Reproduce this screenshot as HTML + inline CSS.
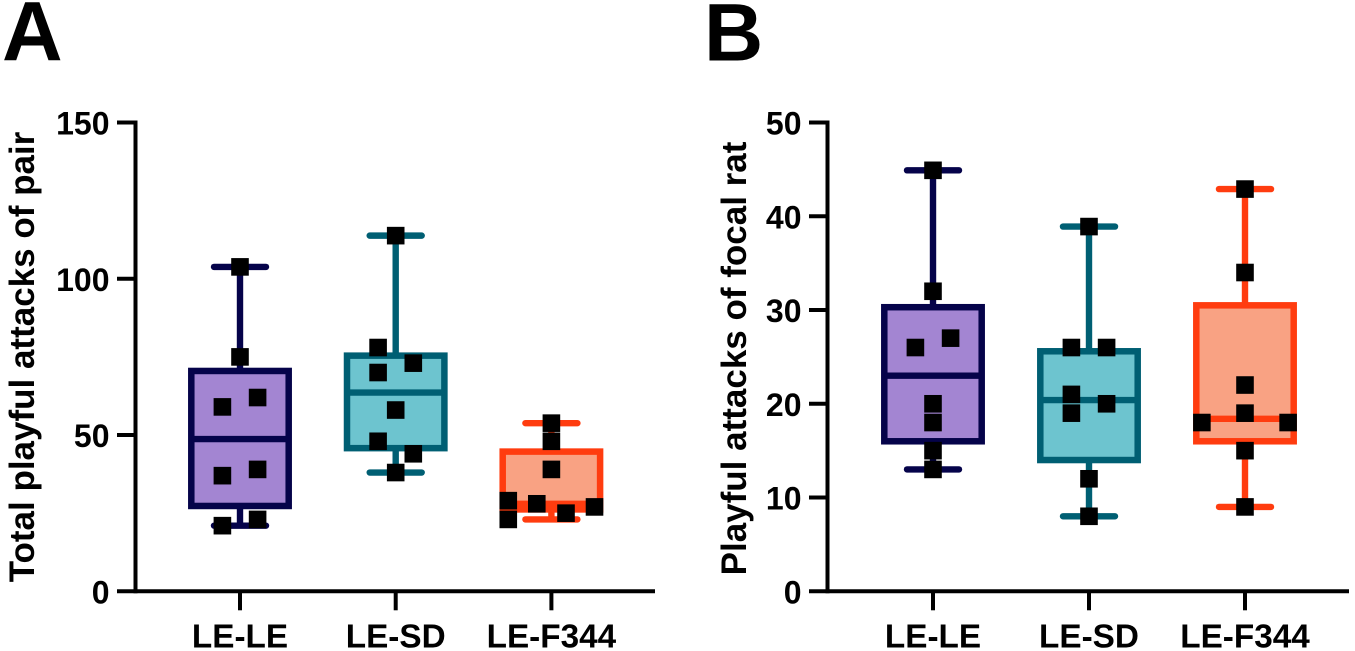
<!DOCTYPE html>
<html lang="en">
<head>
<meta charset="utf-8">
<title>Playful attacks box plots</title>
<style>
html,body{margin:0;padding:0;background:#fff;}
body{width:1355px;height:651px;overflow:hidden;}
svg{display:block;}
text{font-family:"Liberation Sans",Arial,sans-serif;font-weight:bold;fill:#000;}
</style>
</head>
<body>
<svg id="chart" width="1355" height="651" viewBox="0 0 1355 651" xmlns="http://www.w3.org/2000/svg"></svg>
<script>
const categories = ['LE-LE', 'LE-SD', 'LE-F344'];
const strokeColors = ['#05034a', '#005f73', '#ff3c0f'];
const fillColors = ['#a385d2', '#6dc4cf', '#f9a283'];

const panelLabels = ['A', 'B'];
const axisTitles = ['Total playful attacks of pair', 'Playful attacks of focal rat'];

const ticksA = [0, 50, 100, 150];
const ticksB = [0, 10, 20, 30, 40, 50];

const minA = [21, 38, 23];
const q1A = [27.3, 45.8, 26.2];
const medianA = [48.7, 63.6, 28];
const q3A = [70.5, 75.4, 44.7];
const maxA = [103.8, 113.8, 53.8];

const minB = [13, 8, 9];
const q1B = [16, 14, 16];
const medianB = [23, 20.4, 18.4];
const q3B = [30.3, 25.6, 30.5];
const maxB = [44.9, 38.9, 42.9];

const pointsA = [
  [103.8, 75, 62, 59, 39, 37, 23, 21],
  [113.8, 78, 73, 70, 58, 48, 44, 38],
  [53.8, 48, 39, 29, 28, 27, 25, 23]
];
const pointsB = [
  [44.9, 32, 27, 26, 20, 18, 15, 13],
  [38.9, 26, 26, 21, 20, 19, 12, 8],
  [42.9, 34, 22, 19, 18, 18, 15, 9]
];

/* Swarm column of each point, in marker widths from the box centre */
const columnsA = [
  [0, 0, 1, -1, 1, -1, 1, -1],
  [0, -1, 1, -1, 0, -1, 1, 0],
  [0, 0, 0, -2.45, -0.83, 2.45, 0.83, -2.45]
];
const columnsB = [
  [0, 0, 1, -1, 0, 0, 0, 0],
  [0, -1, 1, -1, 1, -1, 0, 0],
  [0, 0, 0, 0, -2.45, 2.45, 0, 0]
];

const NS = 'http://www.w3.org/2000/svg';
const svg = document.getElementById('chart');

function make(parent, tag, attrs, text) {
  const el = document.createElementNS(NS, tag);
  for (const key in attrs) el.setAttribute(key, attrs[key]);
  if (text !== undefined) el.textContent = text;
  parent.appendChild(el);
  return el;
}

function drawPanel(cfg) {
  const yScale = v => cfg.y0 - (v / cfg.yMax) * (cfg.y0 - cfg.yTop);
  const xScale = i => cfg.xFirst + i * cfg.xStep;

  const panel = make(svg, 'g', {});
  
  

  const letter = make(panel, 'text', {x: cfg.letterX, y: 60.5, 'font-size': cfg.letterSize}, cfg.label);
  
  

  const title = make(panel, 'text', {
    x: 0, y: 0, 'font-size': cfg.titleSize, 'text-anchor': 'middle',
    transform: 'translate(' + cfg.titleX + ' ' + cfg.titleY + ') rotate(-90)'
  }, cfg.title);
  
  

  cfg.ticks.forEach(t => {
    const tick = make(panel, 'line', {x1: cfg.xAxis - 18.5, x2: cfg.xAxis, y1: yScale(t), y2: yScale(t), stroke: '#000', 'stroke-width': 4});
    
    
    const label = make(panel, 'text', {x: cfg.xAxis - 26, y: yScale(t) + 12, 'font-size': 32, 'text-anchor': 'end'}, String(t));
    
    
  });

  const yAxis = make(panel, 'line', {x1: cfg.xAxis, x2: cfg.xAxis, y1: cfg.yTop - 2, y2: cfg.y0 + 2, stroke: '#000', 'stroke-width': 4});
  
  
  const xAxis = make(panel, 'line', {x1: cfg.xAxis, x2: cfg.xEnd, y1: cfg.y0, y2: cfg.y0, stroke: '#000', 'stroke-width': 4});
  
  

  categories.forEach((cat, i) => {
    const cx = xScale(i);
    const tick = make(panel, 'line', {x1: cx, x2: cx, y1: cfg.y0, y2: cfg.y0 + 19, stroke: '#000', 'stroke-width': 4});
    
    
    const label = make(panel, 'text', {x: cx, y: 647.5, 'font-size': 33.3, 'text-anchor': 'middle'}, cat);
    
    

    const group = make(panel, 'g', {stroke: strokeColors[i]});
    
    

    const whisker = make(group, 'line', {x1: cx, x2: cx, y1: yScale(cfg.max[i]), y2: yScale(cfg.min[i]), 'stroke-width': 6.4});
    
    

    [cfg.max[i], cfg.min[i]].forEach(v => {
      const cap = make(group, 'line', {x1: cx - 26, x2: cx + 26, y1: yScale(v), y2: yScale(v), 'stroke-width': 6.4, 'stroke-linecap': 'round'});
      
      
    });

    const box = make(group, 'rect', {
      x: cx - 48.7, width: 97.4,
      y: yScale(cfg.q3[i]), height: yScale(cfg.q1[i]) - yScale(cfg.q3[i]),
      fill: fillColors[i], 'stroke-width': 6.5
    });
    
    

    const median = make(group, 'line', {x1: cx - 48.7, x2: cx + 48.7, y1: yScale(cfg.median[i]), y2: yScale(cfg.median[i]), 'stroke-width': 6.4});
    
    

    cfg.points[i].forEach((v, j) => {
      const size = 17.6;
      const px = cx + cfg.columns[i][j] * size;
      const point = make(panel, 'rect', {x: px - size / 2, y: yScale(v) - size / 2, width: size, height: size, fill: '#000'});
      
      
    });
  });
}

drawPanel({
  label: panelLabels[0], title: axisTitles[0], ticks: ticksA, yMax: 150,
  min: minA, q1: q1A, median: medianA, q3: q3A, max: maxA, points: pointsA, columns: columnsA,
  y0: 591.3, yTop: 122.5, xAxis: 135.5, xEnd: 655, xFirst: 240, xStep: 155.7,
  letterX: 2, letterSize: 84, titleX: 34, titleY: 357, titleSize: 35
});
drawPanel({
  label: panelLabels[1], title: axisTitles[1], ticks: ticksB, yMax: 50,
  min: minB, q1: q1B, median: medianB, q3: q3B, max: maxB, points: pointsB, columns: columnsB,
  y0: 591.3, yTop: 122.5, xAxis: 827.5, xEnd: 1349, xFirst: 933, xStep: 156,
  letterX: 704, letterSize: 82, titleX: 746, titleY: 358.5, titleSize: 35
});
</script>
</body>
</html>
